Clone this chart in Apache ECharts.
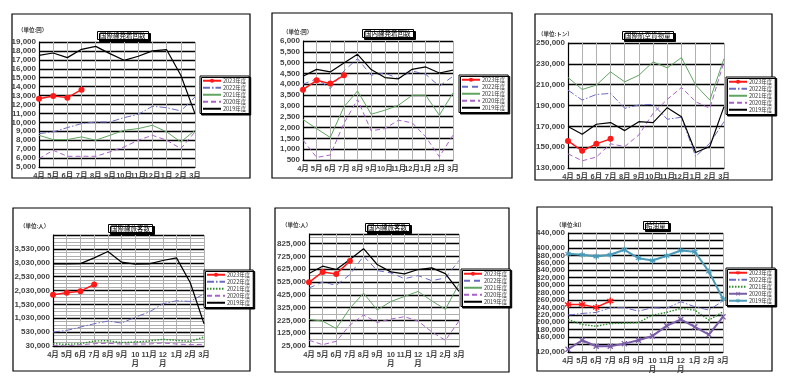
<!DOCTYPE html>
<html><head><meta charset="utf-8">
<script src="https://cdn.jsdelivr.net/npm/echarts@6/dist/echarts.min.js"></script>
<style>html,body{margin:0;padding:0;background:#fff}#c{width:785px;height:382px}</style>
</head><body><div id="c"></div><script>
const months = ['4月','5月','6月','7月','8月','9月','10月','11月','12月','1月','2月','3月'];
const monthsWrapped = ['4月','5月','6月','7月','8月','9月','10\n月','11月','12\n月','1月','2月','3月'];
const years = ['2023年度','2022年度','2021年度','2020年度','2019年度'];
const titles = ['国際線発着回数','国内線発着回数','国際航空貨物量','国際線旅客数','国内線旅客数','給油量'];
const units = ['（単位:回）','（単位:回）','（単位:トン）','（単位:人）','（単位:人）','（単位:kl）'];

// 国際線発着回数
const intlFlights2023 = [12650,12950,12770,13660];
const intlFlights2022 = [8740,8930,9410,9860,10040,10040,10530,10900,11800,11650,11280,12840];
const intlFlights2021 = [8550,8070,8070,8370,8000,8550,9110,9300,9670,8930,7810,9110];
const intlFlights2020 = [5940,6870,6200,6200,6200,6690,7250,8000,8550,8000,7060,8930];
const intlFlights2019 = [17510,17770,17250,18180,18510,17700,16950,17400,18000,18140,15270,10980];
// 国内線発着回数
const domFlights2023 = [3750,4185,4030,4415];
const domFlights2022 = [4000,4260,3800,4615,5185,4415,4520,4260,4615,4460,3910,4370];
const domFlights2021 = [2370,1950,1540,2955,3690,2615,2800,3030,3490,3490,2570,3600];
const domFlights2020 = [1420,620,730,2190,3300,1850,1950,2340,2220,1570,650,1650];
const domFlights2019 = [4370,4690,4570,4985,5385,4680,4310,4250,4690,4800,4520,4650];
// 国際航空貨物量
const cargo2023 = [156000,146500,153200,158000];
const cargo2022 = [204800,195200,200600,201600,187300,190500,191100,176800,178700,141100,153800,174500];
const cargo2021 = [216900,205400,209600,222300,212700,219100,231900,226100,236000,209600,195200,235000];
const cargo2020 = [143600,136900,140500,153200,150600,161800,182500,195900,207300,193600,187300,232000];
const cargo2019 = [169800,162400,172000,173600,165900,174500,173600,187900,179300,144900,150600,188900];
// 国際線旅客数
const intlPax2023 = [1875000,1947000,2007000,2247000];
const intlPax2022 = [532000,592000,712000,832000,928000,856000,1072000,1252000,1552000,1660000,1636000,1911000];
const intlPax2021 = [114000,90000,114000,210000,222000,150000,174000,210000,270000,234000,198000,354000];
const intlPax2020 = [54000,30000,78000,114000,126000,102000,102000,102000,138000,102000,78000,90000];
const intlPax2019 = [2990000,2990000,3000000,3206000,3434000,3050000,2978000,2990000,3110000,3206000,2307000,832000];
// 国内線旅客数
const domPax2023 = [522400,603900,588200,688200];
const domPax2022 = [477600,525000,498700,582900,727600,614500,596000,551300,575000,535500,556600,693400];
const domPax2021 = [233000,219700,161800,319700,438200,306600,372400,411800,451300,377600,311800,509200];
const domPax2020 = [69700,35500,61800,188200,267100,209200,235500,253900,219700,135500,69700,219700];
const domPax2019 = [590800,648700,622400,701300,785500,661800,603900,588200,622400,635500,590800,451300];
// 給油量
const fuel2023 = [248000,248000,240000,257000];
const fuel2022 = [219200,223700,226400,239000,239000,230000,239000,237200,255200,241700,232700,257000];
const fuel2021 = [207500,194000,189400,196600,197500,199300,219200,226400,237200,232700,205600,228200];
const fuel2020 = [127200,151600,135400,135400,142500,151600,163300,190400,207500,187600,166900,214600];
const fuel2019 = [384100,381400,376900,381400,394900,372400,366100,378700,393100,389500,336300,262400];

const panelData = [
  [intlFlights2023,intlFlights2022,intlFlights2021,intlFlights2020,intlFlights2019],
  [domFlights2023,domFlights2022,domFlights2021,domFlights2020,domFlights2019],
  [cargo2023,cargo2022,cargo2021,cargo2020,cargo2019],
  [intlPax2023,intlPax2022,intlPax2021,intlPax2020,intlPax2019],
  [domPax2023,domPax2022,domPax2021,domPax2020,domPax2019],
  [fuel2023,fuel2022,fuel2021,fuel2020,fuel2019]
];
const yScales = [
  {min:5000,max:19000,interval:1000},
  {min:500,max:6000,interval:500},
  {min:130000,max:250000,interval:20000},
  {min:30000,max:4030000,interval:500000,minor:4,hideMax:true},
  {min:25000,max:900000,interval:100000,minor:2,hideMax:true},
  {min:120000,max:440000,interval:20000}
];
const layout = [
  {grid:[39,42,156,125], box:[12,14,238,164], title:[97,31], unit:[18,27], legend:[200,76], wrap:false},
  {grid:[303,41,150,119], box:[272,13,240,165], title:[362,29], unit:[283,29], legend:[459,75], wrap:false},
  {grid:[568,43,156,125], box:[535,14,237,166], title:[622,31], unit:[538,31], legend:[726,77], wrap:false},
  {grid:[53,235,151,111], box:[13,208,237,163], title:[108,224], unit:[20,223], legend:[204,270], wrap:true},
  {grid:[309,234,150,112], box:[275,208,234,164], title:[365,223], unit:[282,222], legend:[461,269], wrap:true},
  {grid:[568,233,155,119], box:[537,207,235,164], title:[643,221], unit:[556,222], legend:[726,268], wrap:true}
];

const xPath = 'path://M0,1.5L1.5,0L5,3.5L8.5,0L10,1.5L6.5,5L10,8.5L8.5,10L5,6.5L1.5,10L0,8.5L3.5,5Z';
const starPath = 'path://M4,0H6V3.3L8.6,1.4L9.8,3L7,5L9.8,7L8.6,8.6L6,6.7V10H4V6.7L1.4,8.6L0.2,7L3,5L0.2,3L1.4,1.4L4,3.3Z';

function seriesStyle(p, k) {
  const s = {type:'line', symbol:'none', lineStyle:{width:1}, z:2};
  if (k === 0) {
    s.symbol = p === 5 ? starPath : 'circle'; s.symbolSize = p === 5 ? 7 : 6;
    s.lineStyle = {color:'#ff1a1a', width:1.5}; s.itemStyle = {color:'#ff1a1a'}; s.z = 6;
  } else if (k === 1) {
    const dashed = (p === 1 || p === 4);
    s.lineStyle = {color:'#6b6bc4', width:1, type: dashed ? [6,4] : [7,2,1.5,2]};
    s.itemStyle = {color:'#6b6bc4'};
  } else if (k === 2) {
    const dotted = (p === 3 || p === 5);
    s.lineStyle = {color: dotted ? '#2e8b2e' : '#62a462', width: dotted ? 1.4 : 1, type: dotted ? [1.5,1.5] : 'solid'};
    s.itemStyle = {color: s.lineStyle.color};
  } else if (k === 3) {
    if (p === 5) {
      s.lineStyle = {color:'#7a5ca8', width:2}; s.itemStyle = {color:'#7a5ca8'};
      s.symbol = xPath; s.symbolSize = 6;
    } else {
      s.lineStyle = {color:'#a862c8', width:1, type:[5,3]}; s.itemStyle = {color:'#a862c8'};
    }
  } else {
    if (p === 5) {
      s.lineStyle = {color:'#4a9ab8', width:2}; s.itemStyle = {color:'#4a9ab8'};
      s.symbol = starPath; s.symbolSize = 6;
    } else {
      s.lineStyle = {color:'#000', width:1.2}; s.itemStyle = {color:'#000'};
    }
  }
  return s;
}

const fmt = v => String(v).replace(/\B(?=(\d{3})+(?!\d))/g, ',');
const nameMap = {};
const option = {animation:false, grid:[], xAxis:[], yAxis:[], series:[], legend:[], title:[], graphic:[]};

layout.forEach((L, p) => {
  const g = L.grid, ys = yScales[p];
  option.grid.push({left:g[0], top:g[1], width:g[2], height:g[3], containLabel:false});
  option.xAxis.push({
    type:'category', gridIndex:p, data: L.wrap ? monthsWrapped : months, boundaryGap:false,
    axisLine:{lineStyle:{color:'#000', width:1.2}}, axisTick:{show:false},
    axisLabel:{interval:0, fontSize:7.5, fontWeight:'bold', color:'#444', margin:4, lineHeight:9, fontFamily:'Liberation Sans, Noto Sans CJK JP'},
    splitLine:{show:true, interval:0, lineStyle:{color:'#b0b0b0', width:1}}
  });
  const y = {
    type:'value', gridIndex:p, min:ys.min, max:ys.max, interval:ys.interval,
    axisLine:{show:true, lineStyle:{color:'#000', width:1.2}}, axisTick:{show:false},
    axisLabel:{fontSize:8, fontWeight:'bold', color:'#444', margin:3, fontFamily:'Liberation Sans',
      showMinLabel:true, showMaxLabel:true, hideOverlap:false,
      formatter: v => (ys.hideMax && v === ys.max) ? '' : fmt(v)},
    splitLine:{show:true, lineStyle:{color:'#000', width:1.4}}
  };
  if (ys.minor) {
    y.minorTick = {show:false, splitNumber:ys.minor};
    y.minorSplitLine = {show:true, lineStyle:{color:'#777', width:0.6}};
  }
  option.yAxis.push(y);
  const legendItems = [];
  panelData[p].forEach((arr, k) => {
    const nm = 'p' + p + '_' + k;
    nameMap[nm] = years[k];
    const s = seriesStyle(p, k);
    legendItems.push(s.symbol === 'none' ? {name:nm, itemStyle:{opacity:0}} : {name:nm});
    s.name = nm; s.xAxisIndex = p; s.yAxisIndex = p; s.data = arr;
    option.series.push(s);
  });
  option.legend.push({
    data: legendItems, orient:'vertical', left:L.legend[0], top:L.legend[1],
    itemGap:1.5, itemWidth:18, itemHeight:5, padding:[2,3,2,2],
    backgroundColor:'#fff', borderColor:'#000', borderWidth:1,
    shadowColor:'#000', shadowOffsetX:1.5, shadowOffsetY:1.5, shadowBlur:0,
    textStyle:{fontSize:5.5, color:'#333', padding:[0,0,0,-3], fontFamily:'Noto Sans CJK JP'},
    formatter: n => nameMap[n], selectedMode:false
  });
  option.title.push({
    text: titles[p], left:L.title[0], top:L.title[1],
    padding:[1,3], backgroundColor:'#fff', borderColor:'#000', borderWidth:1,
    shadowColor:'#000', shadowOffsetX:2, shadowOffsetY:2, shadowBlur:0,
    textStyle:{fontSize:6.5, fontWeight:'normal', color:'#000', fontFamily:'Noto Sans CJK JP'}
  });
  option.title.push({
    text: units[p], left:L.unit[0], top:L.unit[1], padding:0,
    textStyle:{fontSize:5.5, fontWeight:'bold', color:'#333', fontFamily:'Noto Sans CJK JP'}
  });
  option.graphic.push({
    type:'rect', shape:{x:L.box[0], y:L.box[1], width:L.box[2], height:L.box[3]},
    style:{fill:'none', stroke:'#000', lineWidth:1.2}, silent:true, z:0
  });
});

const chart = echarts.init(document.getElementById('c'), null, {renderer:'canvas'});
chart.setOption(option);
</script></body></html>
